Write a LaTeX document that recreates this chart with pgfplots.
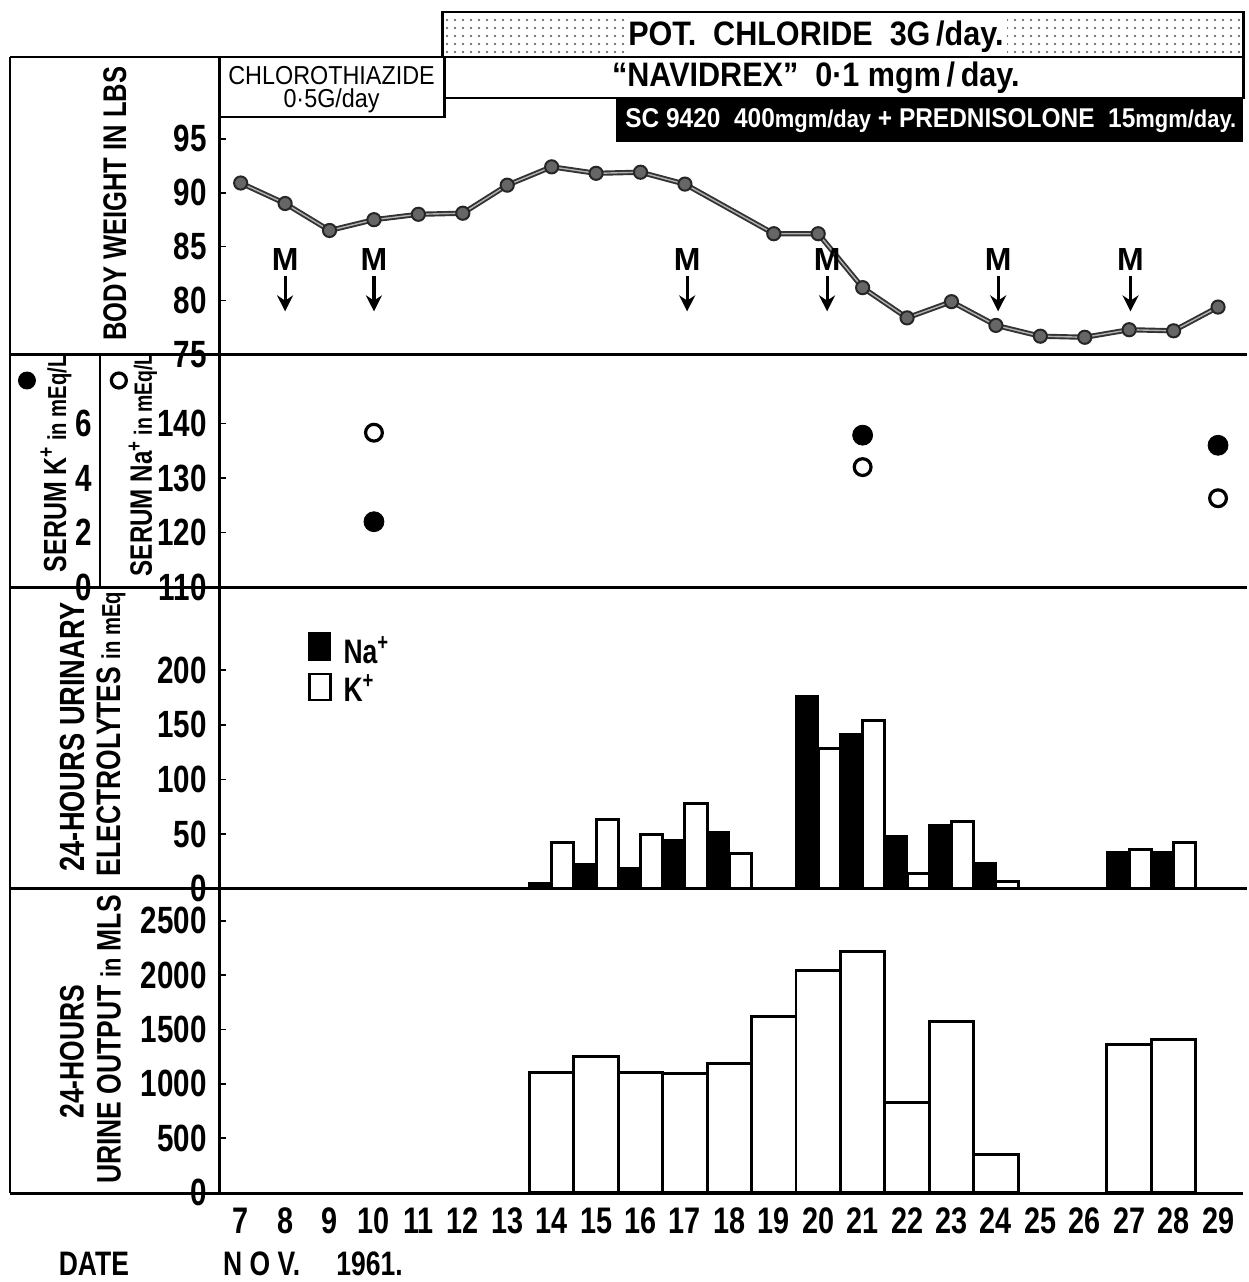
\documentclass[border=0pt]{standalone}
\usepackage{pgfplots}
\pgfplotsset{compat=1.18}
\usepackage{pgfplotstable}
\usepackage{fontspec}
\setmainfont{Liberation Sans}[FakeStretch=0.78]
\newfontfamily\nfont{Liberation Sans}[FakeStretch=0.9]
\newfontfamily\mfont{Liberation Sans}
\usetikzlibrary{arrows.meta,patterns.meta}
\newcommand\fsz[1]{\fontsize{#1}{#1}\selectfont}

\pgfplotstableread{
day w
7 90.9
8 89.0
9 86.5
10 87.5
11 88.0
12 88.1
13 90.7
14 92.4
15 91.8
16 91.9
17 90.8
19 86.2
20 86.2
21 81.2
22 78.4
23 79.9
24 77.7
25 76.7
26 76.6
27 77.3
28 77.2
29 79.4
}\weight

\pgfplotsset{panel/.style={
  scale only axis, width=512.5pt, xmin=6.528, xmax=29.57,
  axis line style={draw=none}, xtick=\empty,
  ytick pos=left, tick align=inside, major tick length=3pt,
  tick style={black,line width=0.8pt},
  yticklabel style={font=\bfseries\fsz{19}, inner sep=1pt, xshift=-5.3pt},
  /pgf/number format/assume math mode=true,
  /pgf/number format/1000 sep={},
  scaled y ticks=false, clip=false, anchor=south west,
}}

\begin{document}
\begin{tikzpicture}
\begin{scope}[x=0.5pt,y=0.5pt]
\path[use as bounding box] (0,0) rectangle (1249,-1282);
\end{scope}

% ---------- body weight ----------
\begin{axis}[panel, at={(110pt,-177.5pt)}, height=149pt, ymin=75, ymax=102.59, ytick={75,80,...,95}]
\addplot[draw=black!80, line width=2.6pt, postaction={draw=black!30, line width=0.7pt},
  mark=*, mark size=3.3pt,
  mark options={fill=black!60, draw=black!85, line width=1pt}] table[x=day,y=w]{\weight};
\node[font=\mfont\bfseries\fsz{16}] at (axis cs:8,83.8) {M};
\draw[line width=1.6pt,-{Stealth[length=8pt,width=8pt]}] (axis cs:8,82.3) -- (axis cs:8,79.0);
\node[font=\mfont\bfseries\fsz{16}] at (axis cs:10,83.8) {M};
\draw[line width=1.6pt,-{Stealth[length=8pt,width=8pt]}] (axis cs:10,82.3) -- (axis cs:10,79.0);
\node[font=\mfont\bfseries\fsz{16}] at (axis cs:17.05,83.8) {M};
\draw[line width=1.6pt,-{Stealth[length=8pt,width=8pt]}] (axis cs:17.05,82.3) -- (axis cs:17.05,79.0);
\node[font=\mfont\bfseries\fsz{16}] at (axis cs:20.2,83.8) {M};
\draw[line width=1.6pt,-{Stealth[length=8pt,width=8pt]}] (axis cs:20.2,82.3) -- (axis cs:20.2,79.0);
\node[font=\mfont\bfseries\fsz{16}] at (axis cs:24.05,83.8) {M};
\draw[line width=1.6pt,-{Stealth[length=8pt,width=8pt]}] (axis cs:24.05,82.3) -- (axis cs:24.05,79.0);
\node[font=\mfont\bfseries\fsz{16}] at (axis cs:27.03,83.8) {M};
\draw[line width=1.6pt,-{Stealth[length=8pt,width=8pt]}] (axis cs:27.03,82.3) -- (axis cs:27.03,79.0);
\end{axis}

% ---------- serum Na (open) ----------
\begin{axis}[panel, at={(110pt,-294pt)}, height=116.5pt, ymin=110, ymax=152.62, ytick={110,120,130,140}]
\addplot[only marks, mark=o, mark size=4.2pt, mark options={line width=1.6pt}]
  coordinates {(10,138.3) (21,132) (29,126.3)};
\end{axis}
% ---------- serum K (filled) ----------
\begin{axis}[panel, at={(110pt,-294pt)}, height=116.5pt, ymin=0, ymax=8.524, ytick={0,2,4,6},
  major tick length=0pt, yticklabel style={xshift=-57.5pt}]
\addplot[only marks, mark=*, mark size=5pt] coordinates {(10,2.4) (21,5.57) (29,5.2)};
\end{axis}

% ---------- urinary electrolytes ----------
\begin{axis}[panel, at={(110pt,-445pt)}, height=151pt, ymin=0, ymax=275.8, ytick={0,50,...,200}]
\addplot[ybar, bar width=0.5, bar shift=-0.25, fill=black, draw=black, line width=1pt]
  coordinates {(14,5) (15,23) (16,19) (17,45) (18,52) (20,176) (21,142) (22,48) (23,58) (24,24) (27,34) (28,34)};
\addplot[ybar, bar width=0.5, bar shift=0.25, fill=white, draw=black, line width=1.5pt]
  coordinates {(14,42) (15,63) (16,50) (17,78) (18,32) (20,128) (21,154) (22,14) (23,62) (24,7) (27,36) (28,42)};
\end{axis}

% ---------- urine output ----------
\begin{axis}[panel, at={(110pt,-597pt)}, height=152pt, ymin=0, ymax=2794, ytick={0,500,...,2500},
  xtick={7,...,29}, xtick pos=bottom,
  xticklabel style={font=\bfseries\fsz{18.5}, anchor=base, yshift=-20.5pt}, xtick style={draw=none}]
\addplot[ybar, bar width=1, bar shift=0, fill=white, draw=black, line width=1.5pt]
  coordinates {(14,1100) (15,1255) (16,1100) (17,1090) (18,1190) (19,1615) (20,2040) (21,2215) (22,830) (23,1570) (24,350) (27,1365) (28,1410)};
\end{axis}

\begin{scope}[x=0.5pt,y=0.5pt]
% ---------- frame ----------
\draw[line width=1.4pt] (10,-57) -- (220,-57);
\draw[line width=1.4pt] (10,-57) -- (10,-1195);
\draw[line width=1.4pt] (220,-57) -- (220,-1195);
\draw[line width=1.4pt] (10,-355) -- (1249,-355);
\draw[line width=1.4pt] (10,-588) -- (1249,-588);
\draw[line width=1.4pt] (10,-890) -- (1249,-890);
\draw[line width=1.4pt] (10,-1195) -- (1245,-1195);
\draw[line width=1.2pt] (100,-355) -- (100,-588);

% ---------- treatment boxes ----------
\draw[line width=1.2pt, pattern={Dots[distance=4pt,radius=0.55pt]}, pattern color=black!70] (443,-12) rectangle (1245,-57);
\node[fill=white, inner sep=1.5pt, font=\nfont\bfseries\fsz{17}] at (817,-37) {POT.\ \ CHLORIDE\ \ 3G\,/day.};
\draw[line width=1.2pt] (445,-57) rectangle (1245,-98);
\node[font=\nfont\bfseries\fsz{17}] at (817,-78) {“NAVIDREX”\ \ 0·1 mgm\,/\,day.};
\fill (617,-98) rectangle (1245,-142);
\node[text=white, font=\nfont\bfseries\fsz{13.6}] at (932,-121) {SC 9420\ \ 400{\fsz{12.2}mgm/day} + PREDNISOLONE\ \ 15{\fsz{12.2}mgm/day.}};
\draw[line width=1.2pt] (220,-57) rectangle (445,-117);
\node[anchor=base, font=\nfont\fsz{13}] at (332,-85) {CHLOROTHIAZIDE};
\node[anchor=base, font=\nfont\fsz{13}] at (332,-108) {0·5G/day};

% ---------- left labels ----------
\node[rotate=90, font=\bfseries\fsz{16.4}] at (115,-204) {BODY WEIGHT IN LBS};
\node[rotate=90, anchor=west, font=\bfseries\fsz{16}] at (56,-580) {SERUM K\textsuperscript{+}\,{\fsz{13}in mEq/L}};
\node[rotate=90, anchor=west, font=\bfseries\fsz{15.5}] at (143,-584) {SERUM Na\textsuperscript{+}\,{\fsz{12.5}in mEq/L}};
\fill (27,-381) circle (9);
\draw[line width=1.6pt] (119,-381) circle (7.5);
\node[rotate=90, font=\bfseries\fsz{17.5}] at (73,-738) {24-HOURS URINARY};
\node[rotate=90, font=\bfseries\fsz{17}] at (111,-735) {ELECTROLYTES\ {\fsz{13}in mEq}};
\node[rotate=90, font=\bfseries\fsz{17}] at (72,-1053) {24-HOURS};
\node[rotate=90, font=\bfseries\fsz{17}] at (109,-1041) {URINE OUTPUT {\fsz{14}in} MLS};

% ---------- legend ----------
\fill (308,-633) rectangle (331,-662);
\draw[line width=1.3pt] (310,-675) rectangle (331,-701);
\node[anchor=west, font=\bfseries\fsz{17}] at (337,-651) {Na\textsuperscript{+}};
\node[anchor=west, font=\bfseries\fsz{17}] at (337,-689) {K\textsuperscript{+}};

% ---------- date ----------
\node[font=\bfseries\fsz{17}] at (94,-1265) {DATE};
\node[font=\bfseries\fsz{17}] at (262,-1265) {N O V.};
\node[font=\bfseries\fsz{17}] at (370,-1265) {1961.};
\end{scope}
\end{tikzpicture}
\end{document}
